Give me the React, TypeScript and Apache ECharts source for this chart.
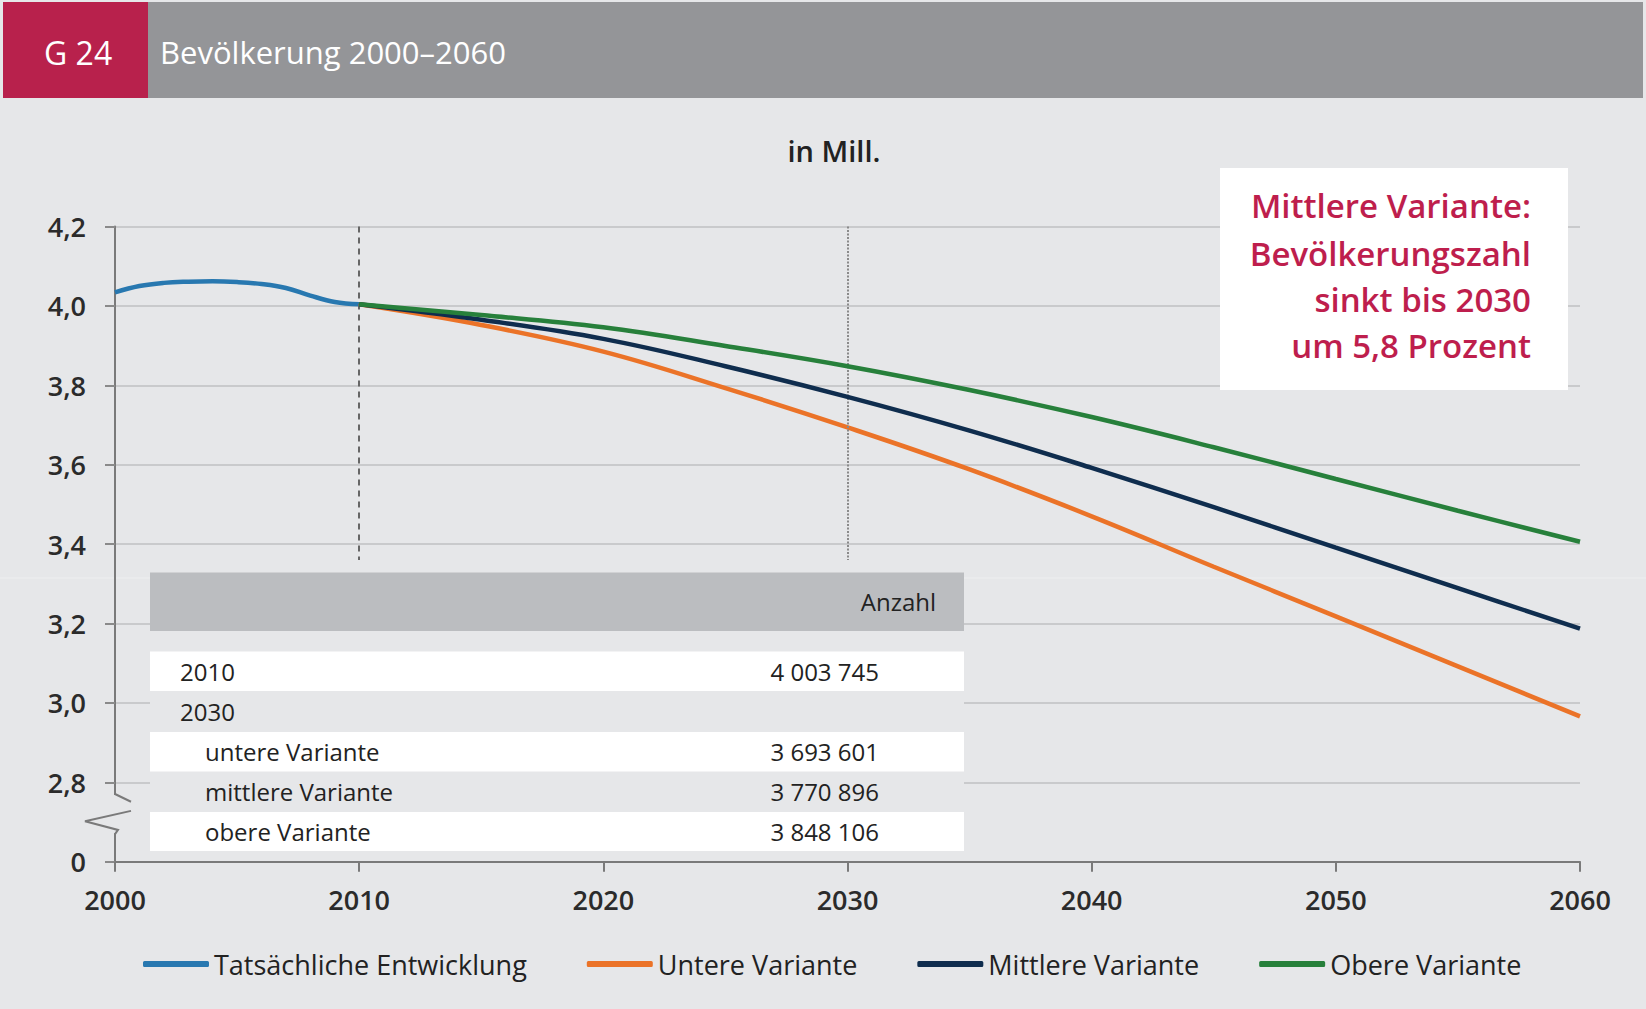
import React, { useEffect, useRef } from "react";
import * as echarts from "echarts";

const actualYears = [2000, 2001, 2002, 2003, 2004, 2005, 2006, 2007, 2008, 2009, 2010];
const actualValues = [4.034, 4.05, 4.058, 4.061, 4.062, 4.06, 4.055, 4.045, 4.026, 4.01, 4.004];

const projYears = [2010, 2015, 2020, 2025, 2030, 2035, 2040, 2045, 2050, 2055, 2060];
const lowerValues = [4.004, 3.952, 3.885, 3.793, 3.694, 3.588, 3.47, 3.343, 3.218, 3.092, 2.966];
const middleValues = [4.004, 3.965, 3.917, 3.848, 3.771, 3.686, 3.592, 3.493, 3.391, 3.289, 3.187];
const upperValues = [4.004, 3.977, 3.946, 3.899, 3.848, 3.788, 3.72, 3.644, 3.564, 3.484, 3.406];

const seriesNames = ["Tatsächliche Entwicklung", "Untere Variante", "Mittlere Variante", "Obere Variante"];
const seriesColors = ["#2878B0", "#EB7328", "#0F2D4E", "#27803B"];

const tableHeader = "Anzahl";
const tableLabels = ["2010", "2030", "untere Variante", "mittlere Variante", "obere Variante"];
const tableValues = ["4 003 745", "", "3 693 601", "3 770 896", "3 848 106"];
const tableIndent = [false, false, true, true, true];

const noteLines = ["Mittlere Variante:", "Bevölkerungszahl", "sinkt bis 2030", "um 5,8 Prozent"];

const FONT = "'Open Sans', Lato, 'DejaVu Sans', sans-serif";
const BG = "#E6E7E9";

export default function App() {
  const ref = useRef<HTMLDivElement>(null);
  useEffect(() => {
    if (!ref.current) return;
    const chart = echarts.init(ref.current, null, { renderer: "svg" });
    const pairs = (xs: number[], ys: number[]) => xs.map((x, i) => [x, ys[i]]);

    const tableGraphics: any[] = [];
    const tx0 = 150, tx1 = 964;
    tableGraphics.push({ type: "rect", shape: { x: tx0, y: 572, width: tx1 - tx0, height: 280 }, style: { fill: BG }, z: 50 });
    tableGraphics.push({ type: "rect", shape: { x: tx0, y: 572.5, width: tx1 - tx0, height: 58.5 }, style: { fill: "#BBBDC0" }, z: 51 });
    tableGraphics.push({ type: "text", x: 936, y: 601, style: { text: tableHeader, font: `400 24px ${FONT}`, fill: "#222", align: "right", verticalAlign: "middle" }, z: 52 });
    const rowTops = [651.5, 691, 732, 771.5, 812];
    const rowH = [39.5, 41, 39.5, 40.5, 39];
    tableLabels.forEach((lab, i) => {
      if (i % 2 === 0) {
        tableGraphics.push({ type: "rect", shape: { x: tx0, y: rowTops[i], width: tx1 - tx0, height: rowH[i] }, style: { fill: "#FFFFFF" }, z: 51 });
      }
      const cy = rowTops[i] + rowH[i] / 2;
      tableGraphics.push({ type: "text", x: tableIndent[i] ? 205 : 180, y: cy, style: { text: lab, font: `400 24px ${FONT}`, fill: "#222", align: "left", verticalAlign: "middle" }, z: 52 });
      if (tableValues[i]) {
        tableGraphics.push({ type: "text", x: 879, y: cy, style: { text: tableValues[i], font: `400 24px ${FONT}`, fill: "#222", align: "right", verticalAlign: "middle" }, z: 52 });
      }
    });

    const noteGraphics: any[] = [
      { type: "rect", shape: { x: 1220, y: 168, width: 348, height: 222 }, style: { fill: "#FFFFFF" }, z: 50 },
      ...noteLines.map((t, i) => ({
        type: "text",
        x: 1531,
        y: [205, 253, 299, 345][i],
        style: { text: t, font: `600 33px ${FONT}`, fill: "#BE1E4D", align: "right", verticalAlign: "middle" },
        z: 51,
      })),
    ];

    const headerGraphics: any[] = [
      { type: "rect", shape: { x: 3, y: 2, width: 1640, height: 96 }, style: { fill: "#949598" }, z: 50 },
      { type: "rect", shape: { x: 3, y: 2, width: 145, height: 96 }, style: { fill: "#B8214C" }, z: 51 },
      { type: "text", x: 44, y: 52, style: { text: "G 24", font: `400 32px ${FONT}`, fill: "#FFFFFF", align: "left", verticalAlign: "middle" }, z: 52 },
      { type: "text", x: 160, y: 52, style: { text: "Bevölkerung 2000–2060", font: `400 31px ${FONT}`, fill: "#FFFFFF", align: "left", verticalAlign: "middle" }, z: 52 },
      { type: "text", x: 834, y: 150, style: { text: "in Mill.", font: `600 29px ${FONT}`, fill: "#222", align: "center", verticalAlign: "middle" }, z: 52 },
      { type: "line", shape: { x1: 0, y1: 578, x2: 1646, y2: 578 }, style: { stroke: "#EEEFF0", lineWidth: 1 }, z: 0 },
    ];

    const option: any = {
      animation: false,
      backgroundColor: BG,
      textStyle: { fontFamily: FONT },
      grid: { left: 115, right: 66, top: 226.5, bottom: 147.3 },
      xAxis: {
        type: "value",
        min: 2000,
        max: 2060,
        interval: 10,
        axisLine: { show: true, lineStyle: { color: "#7A7A7A", width: 2 } },
        axisTick: { show: true, length: 10, lineStyle: { color: "#7A7A7A", width: 2 } },
        axisLabel: { formatter: (v: number) => String(v), fontSize: 27, fontWeight: 600, color: "#2b2b2b", margin: 24, fontFamily: FONT },
        splitLine: { show: false },
      },
      yAxis: {
        type: "value",
        min: 2.6,
        max: 4.2,
        interval: 0.2,
        axisLine: { show: true, lineStyle: { color: "#7A7A7A", width: 2 } },
        axisTick: { show: true, length: 10, lineStyle: { color: "#8A8A8A", width: 2 } },
        axisLabel: {
          formatter: (v: number) => (v < 2.7 ? "0" : v.toFixed(1).replace(".", ",")),
          fontSize: 27,
          fontWeight: 600,
          color: "#2b2b2b",
          margin: 29,
          fontFamily: FONT,
        },
        splitLine: { show: true, lineStyle: { color: "#C9CACC", width: 2 } },
      },
      legend: {
        left: 138,
        top: 941,
        itemWidth: 66,
        itemHeight: 6,
        itemGap: 60,
        icon: "roundRect",
        textStyle: { fontSize: 27, color: "#222", fontFamily: FONT, lineHeight: 36 },
        data: seriesNames,
      },
      series: [
        {
          name: seriesNames[0],
          type: "line",
          data: pairs(actualYears, actualValues),
          smooth: 0.4,
          showSymbol: false,
          lineStyle: { width: 4.5, color: seriesColors[0] },
          itemStyle: { color: seriesColors[0] },
          z: 3,
          markLine: {
            silent: true,
            symbol: "none",
            label: { show: false },
            data: [
              [
                { coord: [2010, 4.2], lineStyle: { type: [6, 5], color: "#666666", width: 2 } },
                { coord: [2010, 3.36] },
              ],
              [
                { coord: [2030, 4.2], lineStyle: { type: [2, 1.5], color: "#8A8A8A", width: 2 } },
                { coord: [2030, 3.36] },
              ],
            ],
          },
        },
        {
          name: seriesNames[1],
          type: "line",
          data: pairs(projYears, lowerValues),
          smooth: 0.4,
          showSymbol: false,
          lineStyle: { width: 4.5, color: seriesColors[1] },
          itemStyle: { color: seriesColors[1] },
          z: 4,
        },
        {
          name: seriesNames[2],
          type: "line",
          data: pairs(projYears, middleValues),
          smooth: 0.4,
          showSymbol: false,
          lineStyle: { width: 4.5, color: seriesColors[2] },
          itemStyle: { color: seriesColors[2] },
          z: 5,
        },
        {
          name: seriesNames[3],
          type: "line",
          data: pairs(projYears, upperValues),
          smooth: 0.4,
          showSymbol: false,
          lineStyle: { width: 4.5, color: seriesColors[3] },
          itemStyle: { color: seriesColors[3] },
          z: 6,
        },
      ],
      graphic: [...headerGraphics, ...noteGraphics, ...tableGraphics],
    };
    chart.setOption(option);

    // axis break marker between 2,8 and 0
    const p28 = chart.convertToPixel({ xAxisIndex: 0, yAxisIndex: 0 }, [2000, 2.8]) as number[];
    const p26 = chart.convertToPixel({ xAxisIndex: 0, yAxisIndex: 0 }, [2000, 2.6]) as number[];
    const ax = p28[0];
    const step = p26[1] - p28[1];
    const yA = p28[1] + step * 0.16;
    const yB = p28[1] + step * 0.64;
    chart.setOption({
      graphic: [
        ...headerGraphics,
        ...noteGraphics,
        ...tableGraphics,
        { type: "rect", shape: { x: ax - 3, y: yA, width: 6, height: yB - yA }, style: { fill: BG }, z: 40 },
        {
          type: "polyline",
          shape: { points: [[ax, yA - 1], [ax + 16, yA + step * 0.085]] },
          style: { stroke: "#7A7A7A", lineWidth: 2, fill: "none" },
          z: 41,
        },
        {
          type: "polyline",
          shape: { points: [[ax + 16, yA + step * 0.2], [ax - 30, yA + step * 0.33], [ax + 3, yA + step * 0.44], [ax, yB + 1]] },
          style: { stroke: "#7A7A7A", lineWidth: 2, fill: "none" },
          z: 41,
        },
      ],
    });

    return () => chart.dispose();
  }, []);
  return <div ref={ref} style={{ position: "fixed", left: 0, top: 0, width: 1646, height: 1009 }} />;
}
